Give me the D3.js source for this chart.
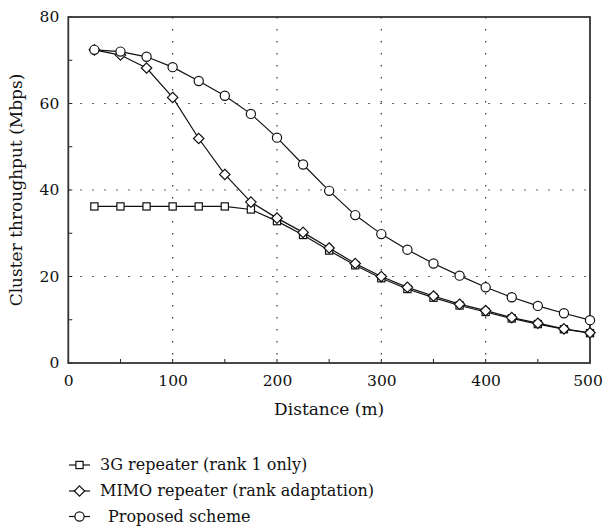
<!DOCTYPE html>
<html><head><meta charset="utf-8">
<script src="https://cdn.jsdelivr.net/npm/d3@7"></script>
<style>body{margin:0;background:#fff}svg{display:block}</style>
</head><body><svg id="c" width="604" height="527"></svg>
<script>
const distances = [25,50,75,100,125,150,175,200,225,250,275,300,325,350,375,400,425,450,475,500];
const repeater3G = [36.2,36.2,36.2,36.2,36.2,36.2,35.5,32.8,29.6,26.0,22.6,19.6,17.1,15.1,13.3,11.8,10.3,9.0,7.8,6.9];
const mimoRepeater = [72.4,71.2,68.2,61.4,51.9,43.6,37.2,33.5,30.2,26.6,23.0,20.0,17.5,15.5,13.6,12.1,10.5,9.2,7.9,7.0];
const proposed = [72.4,72.0,70.8,68.4,65.2,61.8,57.6,52.1,45.9,39.8,34.2,29.8,26.2,23.0,20.2,17.5,15.2,13.2,11.5,9.9];
const xTicks = [0,100,200,300,400,500];
const yTicks = [0,20,40,60,80];
const xMinor = [50,150,250,350,450];
const yMinor = [10,30,50,70];
const seriesNames = ["3G repeater (rank 1 only)","MIMO repeater (rank adaptation)","Proposed scheme"];
const seriesShapes = ["square","diamond","circle"];

const FONT = "'DejaVu Serif', serif";
const svg = d3.select("#c");
const L=68.3,R=590,T=17,B=363;
const x = d3.scaleLinear().domain([0,500]).range([L,R]);
const y = d3.scaleLinear().domain([0,80]).range([B,T]);

// grid
svg.append("g").selectAll("line").data(xTicks.filter(d=>d>0&&d<500)).join("line")
 .attr("x1",d=>x(d)).attr("x2",d=>x(d)).attr("y1",T).attr("y2",B)
 .attr("stroke","#333").attr("stroke-width",1.2).attr("stroke-dasharray","1.5,10.5");
svg.append("g").selectAll("line").data(yTicks.filter(d=>d>0&&d<80)).join("line")
 .attr("y1",d=>y(d)).attr("y2",d=>y(d)).attr("x1",L).attr("x2",R)
 .attr("stroke","#333").attr("stroke-width",1.2).attr("stroke-dasharray","1.5,10.5");

// axes
const xAxis = d3.axisBottom(x).tickValues(xTicks).tickSize(0).tickPadding(12);
const yAxis = d3.axisLeft(y).tickValues(yTicks).tickSize(0).tickPadding(9);
const gx = svg.append("g").attr("transform",`translate(0,${B})`).call(xAxis);
const gy = svg.append("g").attr("transform",`translate(${L},0)`).call(yAxis);
[gx,gy].forEach(a=>{a.attr("font-family",null).attr("font-size",null);a.select(".domain").remove();
  a.selectAll("text").style("font-family",FONT).style("font-size","15.5px").attr("fill","#111");});
gx.selectAll("text").filter(d=>d===500).attr("dx","-2.5");

// minor ticks inward
svg.append("g").selectAll("line").data(xMinor.concat(xTicks)).join("line")
 .attr("x1",d=>x(d)).attr("x2",d=>x(d)).attr("y1",B).attr("y2",B-4).attr("stroke","#222").attr("stroke-width",1);
svg.append("g").selectAll("line").data(yMinor.concat(yTicks)).join("line")
 .attr("y1",d=>y(d)).attr("y2",d=>y(d)).attr("x1",L).attr("x2",L+4).attr("stroke","#222").attr("stroke-width",1);

// frame
svg.append("rect").attr("x",L).attr("y",T).attr("width",R-L).attr("height",B-T)
 .attr("fill","none").attr("stroke","#333").attr("stroke-width",1.8);

// series
const allSeries = [repeater3G, mimoRepeater, proposed];
function drawMarker(sel, shape){
  if(shape==="square") sel.append("rect").attr("x",-3.6).attr("y",-3.6).attr("width",7.2).attr("height",7.2);
  else if(shape==="diamond") sel.append("path").attr("d","M0,-5.2L5.2,0L0,5.2L-5.2,0Z");
  else sel.append("circle").attr("r",4.6);
  sel.selectAll("*").attr("fill","#fff").attr("stroke","#111").attr("stroke-width",1.2);
}
const line = d3.line().x((d,i)=>x(distances[i])).y(d=>y(d));
allSeries.forEach((s,k)=>{
  svg.append("path").datum(s).attr("d",line).attr("fill","none").attr("stroke","#111").attr("stroke-width",1.2);
  svg.append("g").selectAll("g").data(s).join("g")
   .attr("transform",(d,i)=>`translate(${x(distances[i])},${y(d)})`)
   .each(function(){drawMarker(d3.select(this),seriesShapes[k]);});
});

// axis titles
svg.append("text").attr("x",(L+R)/2).attr("y",415).attr("text-anchor","middle")
 .style("font-family",FONT).style("font-size","17px").attr("fill","#111").text("Distance (m)");
svg.append("text").attr("transform",`translate(22,${(T+B)/2}) rotate(-90)`).attr("text-anchor","middle")
 .style("font-family",FONT).style("font-size","17px").attr("fill","#111").text("Cluster throughput (Mbps)");

// legend
const legY = [465,491,516.5];
seriesNames.forEach((n,k)=>{
  const lg = svg.append("g").attr("transform",`translate(0,${legY[k]})`);
  lg.append("line").attr("x1",69).attr("x2",90).attr("y1",0).attr("y2",0).attr("stroke","#111").attr("stroke-width",1.2);
  const m = lg.append("g").attr("transform","translate(79.5,0)");
  drawMarker(m, seriesShapes[k]);
  lg.append("text").attr("x",k===2?108:100).attr("y",0).attr("dy","0.33em")
   .style("font-family",FONT).style("font-size","16px").attr("fill","#111").text(n);
});
</script></body></html>
